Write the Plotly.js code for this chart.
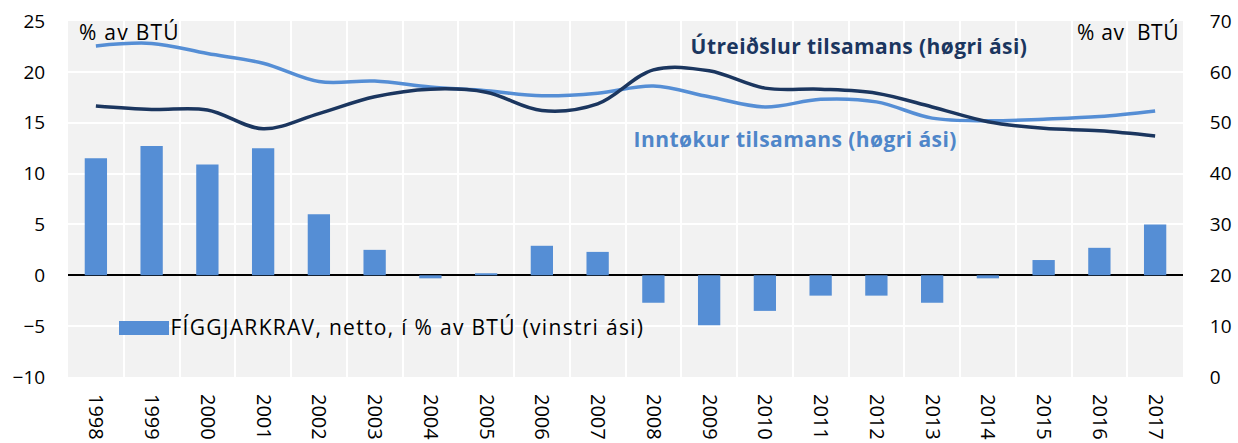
<!DOCTYPE html>
<html><head><meta charset="utf-8">
<script src="https://cdn.plot.ly/plotly-3.0.1.min.js"></script>
<style>body{margin:0;background:#fff}</style>
</head><body><div id="chart" style="width:1238px;height:443px"></div>
<script>
const years = ['1998','1999','2000','2001','2002','2003','2004','2005','2006','2007','2008','2009','2010','2011','2012','2013','2014','2015','2016','2017'];
const netClaims = [11.5, 12.7, 10.9, 12.5, 6.0, 2.5, -0.3, 0.2, 2.9, 2.3, -2.7, -4.9, -3.5, -2.0, -2.0, -2.7, -0.3, 1.5, 2.7, 5.0];
const revenue = [65.1, 65.6, 63.6, 61.7, 58.1, 58.2, 57.0, 56.3, 55.3, 55.8, 57.2, 55.1, 53.1, 54.6, 54.1, 50.9, 50.4, 50.7, 51.2, 52.3];
const expenditure = [53.3, 52.6, 52.5, 48.8, 51.8, 55.1, 56.6, 56.0, 52.4, 53.7, 60.4, 60.2, 56.8, 56.6, 55.8, 53.1, 50.2, 48.9, 48.4, 47.4];
const barLabel = 'FÍGGJARKRAV, netto, í % av BTÚ (vinstri ási)';
const expLabel = 'Útreiðslur tilsamans (høgri ási)';
const revLabel = 'Inntøkur tilsamans (høgri ási)';

const FONT = '"Open Sans", sans-serif';
const barColor = '#558ed5';
const lightLine = '#558ed5';
const darkLine = '#1b365f';

const traces = [
  {type:'bar', x: years, y: netClaims, name: barLabel, marker:{color: barColor}, width: 0.4, yaxis:'y', showlegend:false},
  {type:'scatter', mode:'lines', x: years, y: revenue, name: revLabel, yaxis:'y2', line:{color: lightLine, width:3.5, shape:'spline', smoothing:1}, showlegend:false},
  {type:'scatter', mode:'lines', x: years, y: expenditure, name: expLabel, yaxis:'y2', line:{color: darkLine, width:3.5, shape:'spline', smoothing:1}, showlegend:false}
];

const L = 68, R = 1183, T = 21, B = 377;
const px = v => (v - L) / (R - L);
const py = v => (B - v) / (B - T);

const layout = {
  width: 1238, height: 443,
  margin: {l: L, r: 1238 - R, t: T, b: 443 - B},
  paper_bgcolor: '#ffffff',
  plot_bgcolor: '#f2f2f2',
  font: {family: FONT, size: 19, color: '#000'},
  xaxis: {
    type: 'category', tickson: 'boundaries', showgrid: true, gridcolor: '#ffffff', gridwidth: 2,
    tickangle: 90, ticks: '', ticklabelstandoff: 16,
    tickfont: {family: FONT, size: 20, color: '#000'}, showline: false, zeroline: false,
    range: [-0.5, 19.5]
  },
  yaxis: {
    range: [-10, 25], dtick: 5, tick0: 0, showgrid: true, gridcolor: '#ffffff', gridwidth: 2,
    zeroline: true, zerolinecolor: '#000', zerolinewidth: 2,
    ticks: 'outside', ticklen: 18, tickcolor: 'rgba(0,0,0,0)',
    tickfont: {family: FONT, size: 19, color: '#000'}, showline: false
  },
  yaxis2: {
    range: [0, 70], dtick: 10, overlaying: 'y', side: 'right', showgrid: false, zeroline: false,
    ticks: 'outside', ticklen: 22, tickcolor: 'rgba(0,0,0,0)',
    tickfont: {family: FONT, size: 19, color: '#000'}, showline: false
  },
  shapes: [
    {type:'rect', xref:'paper', yref:'paper', x0: px(119), x1: px(169), y0: py(335), y1: py(321), fillcolor: barColor, line:{width:0}}
  ],
  annotations: [
    {xref:'paper', yref:'paper', x: px(81.6), y: py(32), xanchor:'left', yanchor:'middle', text:'% av BTÚ', showarrow:false, font:{family:FONT, size:21, color:'#000'}},
    {xref:'paper', yref:'paper', x: px(1077.7), y: py(32), xanchor:'left', yanchor:'middle', text:'% av  BTÚ', showarrow:false, font:{family:FONT, size:21, color:'#000'}},
    {xref:'paper', yref:'paper', x: px(694.6), y: py(46), xanchor:'left', yanchor:'middle', text:'<b>' + expLabel + '</b>', showarrow:false, font:{family:FONT, size:21, color: darkLine}},
    {xref:'paper', yref:'paper', x: px(638), y: py(139), xanchor:'left', yanchor:'middle', text:'<b>' + revLabel + '</b>', showarrow:false, font:{family:FONT, size:21, color: '#4f86c9'}},
    {xref:'paper', yref:'paper', x: px(197.4), y: py(327), xanchor:'left', yanchor:'middle', text: barLabel, showarrow:false, font:{family:FONT, size:21, color:'#000'}}
  ]
};

const spacing = ['1.25px', '0.67px', '0.4px', '0.43px', '1.3px'];
Plotly.newPlot('chart', traces, layout, {displayModeBar:false, staticPlot:true}).then(() => {
  document.querySelectorAll('#chart .annotation-text').forEach((el, i) => {
    el.style.letterSpacing = spacing[i] || '0px';
  });
});
</script>
</body></html>
